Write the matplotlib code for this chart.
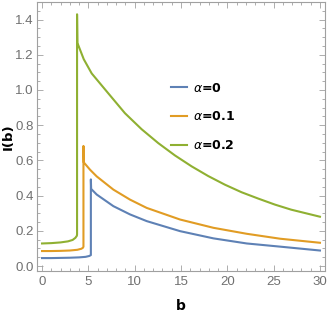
import matplotlib
matplotlib.use("Agg")
import matplotlib.pyplot as plt
from matplotlib.ticker import MultipleLocator, FormatStrFormatter

# curve data: (b, I(b))
b_a0 = [0, 1, 2, 3, 4, 4.7, 5.1, 5.27, 5.27, 5.3, 5.9, 7.7, 9.5, 11.3, 14.9, 18.5, 22.1, 25.7, 30]
i_a0 = [0.045, 0.045, 0.046, 0.047, 0.049, 0.052, 0.057, 0.062, 0.492, 0.438, 0.406, 0.34, 0.293, 0.255, 0.198, 0.157, 0.128, 0.11, 0.088]

b_a1 = [0, 1, 2, 3, 3.8, 4.25, 4.42, 4.47, 4.47, 4.5, 5.18, 5.9, 7.7, 9.5, 11.3, 14.9, 18.5, 22.1, 25.7, 30]
i_a1 = [0.085, 0.085, 0.086, 0.088, 0.092, 0.098, 0.104, 0.11, 0.682, 0.589, 0.547, 0.509, 0.434, 0.377, 0.33, 0.264, 0.217, 0.183, 0.155, 0.132]

b_a2 = [0, 1, 2, 2.8, 3.3, 3.6, 3.76, 3.78, 3.78, 3.82, 4.5, 5.36, 7.15, 8.95, 10.75, 12.55, 14.35, 16.15,
        17.94, 19.74, 21.54, 23.34, 25.13, 26.9, 30]
i_a2 = [0.128, 0.13, 0.134, 0.14, 0.148, 0.16, 0.172, 0.18, 1.43, 1.267, 1.175, 1.094, 0.981, 0.868, 0.777, 0.698, 0.628, 0.566,
        0.511, 0.462, 0.419, 0.383, 0.349, 0.32, 0.28]

labels = [r"$\alpha$=0", r"$\alpha$=0.1", r"$\alpha$=0.2"]
colors = ["#5E81B5", "#E19C24", "#8FB032"]

fig = plt.figure(figsize=(3.27, 3.27), dpi=100)
ax = fig.add_axes([0.113, 0.172, 0.881, 0.822])

for bs, vs, lab, c in zip([b_a0, b_a1, b_a2], [i_a0, i_a1, i_a2], labels, colors):
    ax.plot(bs, vs, color=c, lw=1.5, label=lab, solid_joinstyle="round")

ax.set_xlim(-0.55, 30.55)
ax.set_ylim(-0.027, 1.5)

ax.xaxis.set_major_locator(MultipleLocator(5))
ax.xaxis.set_minor_locator(MultipleLocator(1))
ax.yaxis.set_major_locator(MultipleLocator(0.2))
ax.yaxis.set_minor_locator(MultipleLocator(0.05))
ax.yaxis.set_major_formatter(FormatStrFormatter("%.1f"))

frame = "#a0a0a0"
for s in ax.spines.values():
    s.set_color(frame)
    s.set_linewidth(0.8)
ax.tick_params(which="both", direction="in", top=True, right=True,
               color=frame, labelcolor="#707070", labelsize=9.5, width=0.6)
ax.tick_params(which="major", length=4.5)
ax.tick_params(axis="y", which="major", pad=2.5)
ax.tick_params(axis="x", which="major", pad=4)
ax.tick_params(which="minor", length=2.5)
for t in ax.get_xticklabels() + ax.get_yticklabels():
    t.set_family("Liberation Sans")

ax.set_xlabel("b", fontweight="bold", fontsize=10, labelpad=8)
ax.set_ylabel("I(b)", fontweight="bold", fontsize=9.5)
ax.yaxis.set_label_coords(-0.078, 0.5)

leg = ax.legend(loc="upper left", bbox_to_anchor=(0.425, 0.745), frameon=False,
                handlelength=1.3, handletextpad=0.5, labelspacing=1.25,
                prop={"weight": "bold", "size": 9})

fig.savefig("out.png", dpi=100)
